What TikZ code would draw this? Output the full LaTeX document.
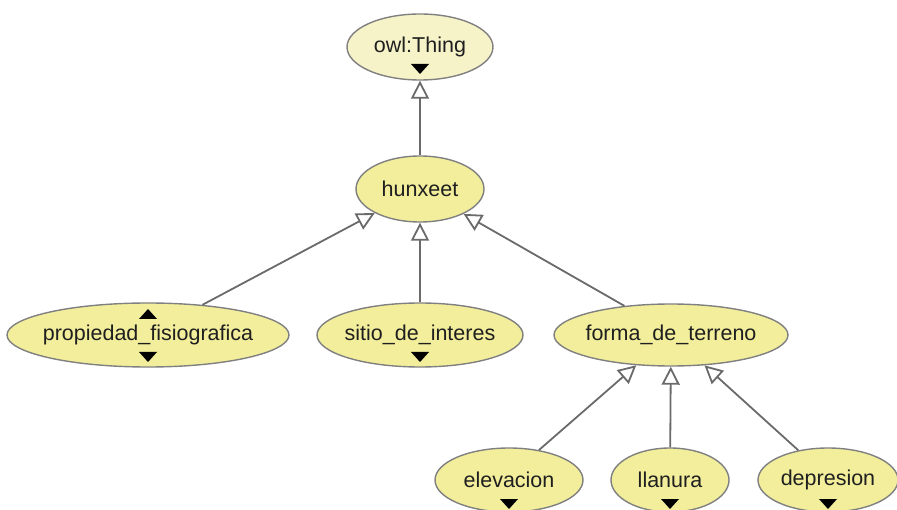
\documentclass[tikz,border=0pt]{standalone}
\usepackage{fontspec}
\setmainfont{Liberation Sans}
\usetikzlibrary{shapes.geometric,arrows.meta,calc}
\definecolor{nodefill}{HTML}{F2EE9C}
\definecolor{topfill}{HTML}{F6F3C9}
\definecolor{edgegray}{HTML}{6A6A6A}
\definecolor{bordergray}{HTML}{808080}
\newcommand{\lbl}[1]{\makebox[0pt]{#1}}
\tikzset{
  cls/.style={ellipse, draw=bordergray, line width=1.4pt, fill=nodefill, inner sep=0pt, font=\fontsize{21.5}{25}\selectfont, text=black!88},
  isa/.style={draw=edgegray, line width=1.8pt, -{Triangle[open, length=18pt, width=18pt, fill=white]}},
}
\newcommand{\downmark}[2]{\fill[black] ($(#1.center)+(-9,#2)$) -- ++(18,0) -- ++(-9,10) -- cycle;}
\newcommand{\upmark}[2]{\fill[black] ($(#1.center)+(-9,#2)$) -- ++(18,0) -- ++(-9,-10) -- cycle;}
\begin{document}
\begin{tikzpicture}[x=1pt, y=-1pt]
\useasboundingbox (0,0) rectangle (897,510);
\clip (0,0) rectangle (897,510);
\node[cls, fill=topfill, minimum width=146pt, minimum height=66pt] (thing) at (420,47) {\lbl{owl:Thing}};
\node[cls, minimum width=128pt, minimum height=66pt] (hun) at (420,189) {\lbl{hunxeet}};
\node[cls, minimum width=282pt, minimum height=64pt] (prop) at (148,335) {\lbl{propiedad\_fisiografica}};
\node[cls, minimum width=206pt, minimum height=64pt] (sitio) at (420,335) {\lbl{sitio\_de\_interes}};
\node[cls, minimum width=234pt, minimum height=62pt] (forma) at (671,335) {\lbl{forma\_de\_terreno}};
\node[cls, minimum width=148pt, minimum height=64pt] (elev) at (509,480) {\lbl{elevacion}};
\node[cls, minimum width=118pt, minimum height=64pt] (llan) at (670,480) {\lbl{llanura}};
\node[cls, minimum width=140pt, minimum height=64pt] (depr) at (828,480) {\lbl{depresion}};

\draw[isa] (hun) -- (thing);
\draw[isa] (prop.29) -- (hun);
\draw[isa] (sitio) -- (hun);
\draw[isa] (forma.148) -- (hun);
\draw[isa] (elev.45) -- (forma);
\draw[isa] (llan) -- (forma);
\draw[isa] (depr.135) -- (forma);

\downmark{thing}{17}
\upmark{prop}{-16}
\downmark{prop}{17}
\downmark{sitio}{17}
\downmark{elev}{19}
\downmark{llan}{19}
\downmark{depr}{19}
\end{tikzpicture}
\end{document}
